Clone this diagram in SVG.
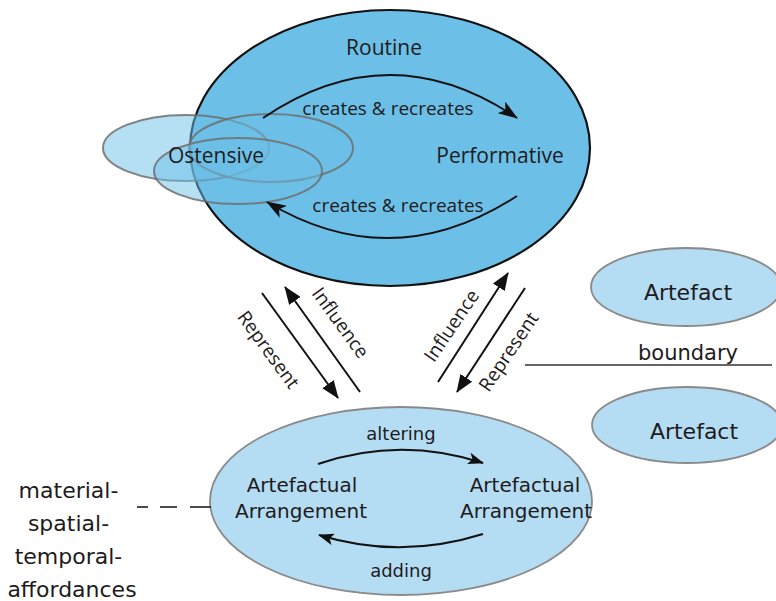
<svg xmlns="http://www.w3.org/2000/svg" width="776" height="601" viewBox="0 0 776 601">
  <style>
    .t { font-family: "Open Sans", "Noto Sans", "Liberation Sans", sans-serif; fill: #1e1b1c; }
    .d { font-family: "DejaVu Sans", "Liberation Sans", sans-serif; fill: #1e1b1c; }
    .routine { fill: #6cc0e8; stroke: #111; stroke-width: 2.2; }
    .ost { fill: #6cc0e8; fill-opacity: 0.5; stroke: #6f6f6f; stroke-opacity: 0.85; stroke-width: 2; }
    .light { fill: #b4dcf2; stroke: #8a8a8a; stroke-width: 1.8; }
    .curve { fill: none; stroke: #111; stroke-width: 2; }
    .link { stroke: #111; stroke-width: 2; }
  </style>
  <defs>
    <marker id="headBig" viewBox="0 0 20 14" refX="19" refY="7" markerWidth="20" markerHeight="14" markerUnits="userSpaceOnUse" orient="auto">
      <path d="M0,0 L20,7 L0,14 L5,7 Z" fill="#111"/>
    </marker>
    <marker id="headSmall" viewBox="0 0 16 12" refX="15" refY="6" markerWidth="16" markerHeight="12" markerUnits="userSpaceOnUse" orient="auto">
      <path d="M0,0 L16,6 L0,12 L4,6 Z" fill="#111"/>
    </marker>
    <marker id="headLine" viewBox="0 0 18 14" refX="17" refY="7" markerWidth="18" markerHeight="14" markerUnits="userSpaceOnUse" orient="auto">
      <path d="M0,0 L18,7 L0,14 Z" fill="#111"/>
    </marker>
  </defs>

  <rect width="776" height="601" fill="#ffffff"/>

  <!-- Routine with its ostensive and performative aspects -->
  <g id="routine">
    <ellipse class="routine" cx="390" cy="148" rx="200" ry="138"/>
    <text class="t" x="384" y="55" font-size="21" text-anchor="middle">Routine</text>
  </g>
  <g id="ostensive">
    <ellipse class="ost" cx="186" cy="148" rx="83" ry="33"/>
    <ellipse class="ost" cx="271" cy="148" rx="82" ry="34"/>
    <ellipse class="ost" cx="238" cy="171" rx="84" ry="33"/>
    <text class="t" x="216" y="163" font-size="21" text-anchor="middle">Ostensive</text>
  </g>
  <g id="performative">
    <text class="t" x="500" y="163" font-size="21" text-anchor="middle">Performative</text>
  </g>

  <!-- Artefactual arrangement -->
  <g id="arrangement">
    <ellipse class="light" cx="401" cy="501" rx="191" ry="94"/>
    <text class="d" x="302" y="492" font-size="20" text-anchor="middle">Artefactual</text>
    <text class="d" x="301" y="518" font-size="20" text-anchor="middle">Arrangement</text>
    <text class="d" x="525" y="492" font-size="20" text-anchor="middle">Artefactual</text>
    <text class="d" x="526" y="518" font-size="20" text-anchor="middle">Arrangement</text>
  </g>

  <g id="affordances">
    <text class="d" font-size="22" text-anchor="middle">
      <tspan x="72" y="498">material-</tspan>
      <tspan x="72" y="531">spatial-</tspan>
      <tspan x="72" y="564">temporal-</tspan>
      <tspan x="72" y="597">affordances</tspan>
    </text>
  </g>

  <g id="artefact-top">
    <ellipse class="light" cx="686" cy="287" rx="95" ry="39"/>
    <text class="d" x="688" y="300" font-size="22" text-anchor="middle">Artefact</text>
  </g>
  <g id="boundary">
    <line x1="525" y1="365" x2="772" y2="365" stroke="#333" stroke-width="1.3"/>
    <text class="d" x="688" y="360" font-size="21" text-anchor="middle">boundary</text>
  </g>
  <g id="artefact-bottom">
    <ellipse class="light" cx="687" cy="425" rx="95" ry="38"/>
    <text class="d" x="694" y="439" font-size="22" text-anchor="middle">Artefact</text>
  </g>

  <!-- Connectors -->
  <g id="connectors">
    <path class="curve" d="M263,118 Q390,32 517,118" marker-end="url(#headBig)"/>
    <text class="t" x="388" y="115" font-size="19" text-anchor="middle">creates &amp; recreates</text>
    <path class="curve" d="M517,196 Q392,277 267,202" marker-end="url(#headBig)"/>
    <text class="t" x="398" y="212" font-size="19" text-anchor="middle">creates &amp; recreates</text>

    <path class="curve" d="M318,464 Q400,436 483,463" marker-end="url(#headSmall)"/>
    <text class="d" x="401" y="440" font-size="18" text-anchor="middle">altering</text>
    <path class="curve" d="M483,534 Q400,560 319,535" marker-end="url(#headSmall)"/>
    <text class="d" x="401" y="577" font-size="18" text-anchor="middle">adding</text>

    <line class="link" x1="262" y1="293" x2="338" y2="398" marker-end="url(#headLine)"/>
    <line class="link" x1="360" y1="392" x2="285" y2="287" marker-end="url(#headLine)"/>
    <line class="link" x1="438" y1="382" x2="508" y2="273" marker-end="url(#headLine)"/>
    <line class="link" x1="525" y1="288" x2="457" y2="392" marker-end="url(#headLine)"/>
    <text class="t" font-size="19" text-anchor="middle" transform="translate(268,350) rotate(54)" y="6">Represent</text>
    <text class="t" font-size="19" text-anchor="middle" transform="translate(340,323) rotate(54)" y="6">Influence</text>
    <text class="t" font-size="19" text-anchor="middle" transform="translate(452,326) rotate(-56)" y="6">Influence</text>
    <text class="t" font-size="19" text-anchor="middle" transform="translate(509,352) rotate(-56)" y="6">Represent</text>

    <line x1="137" y1="507" x2="211" y2="507" stroke="#111" stroke-width="1.6" stroke-dasharray="11 12 17 13 21"/>
  </g>
</svg>
